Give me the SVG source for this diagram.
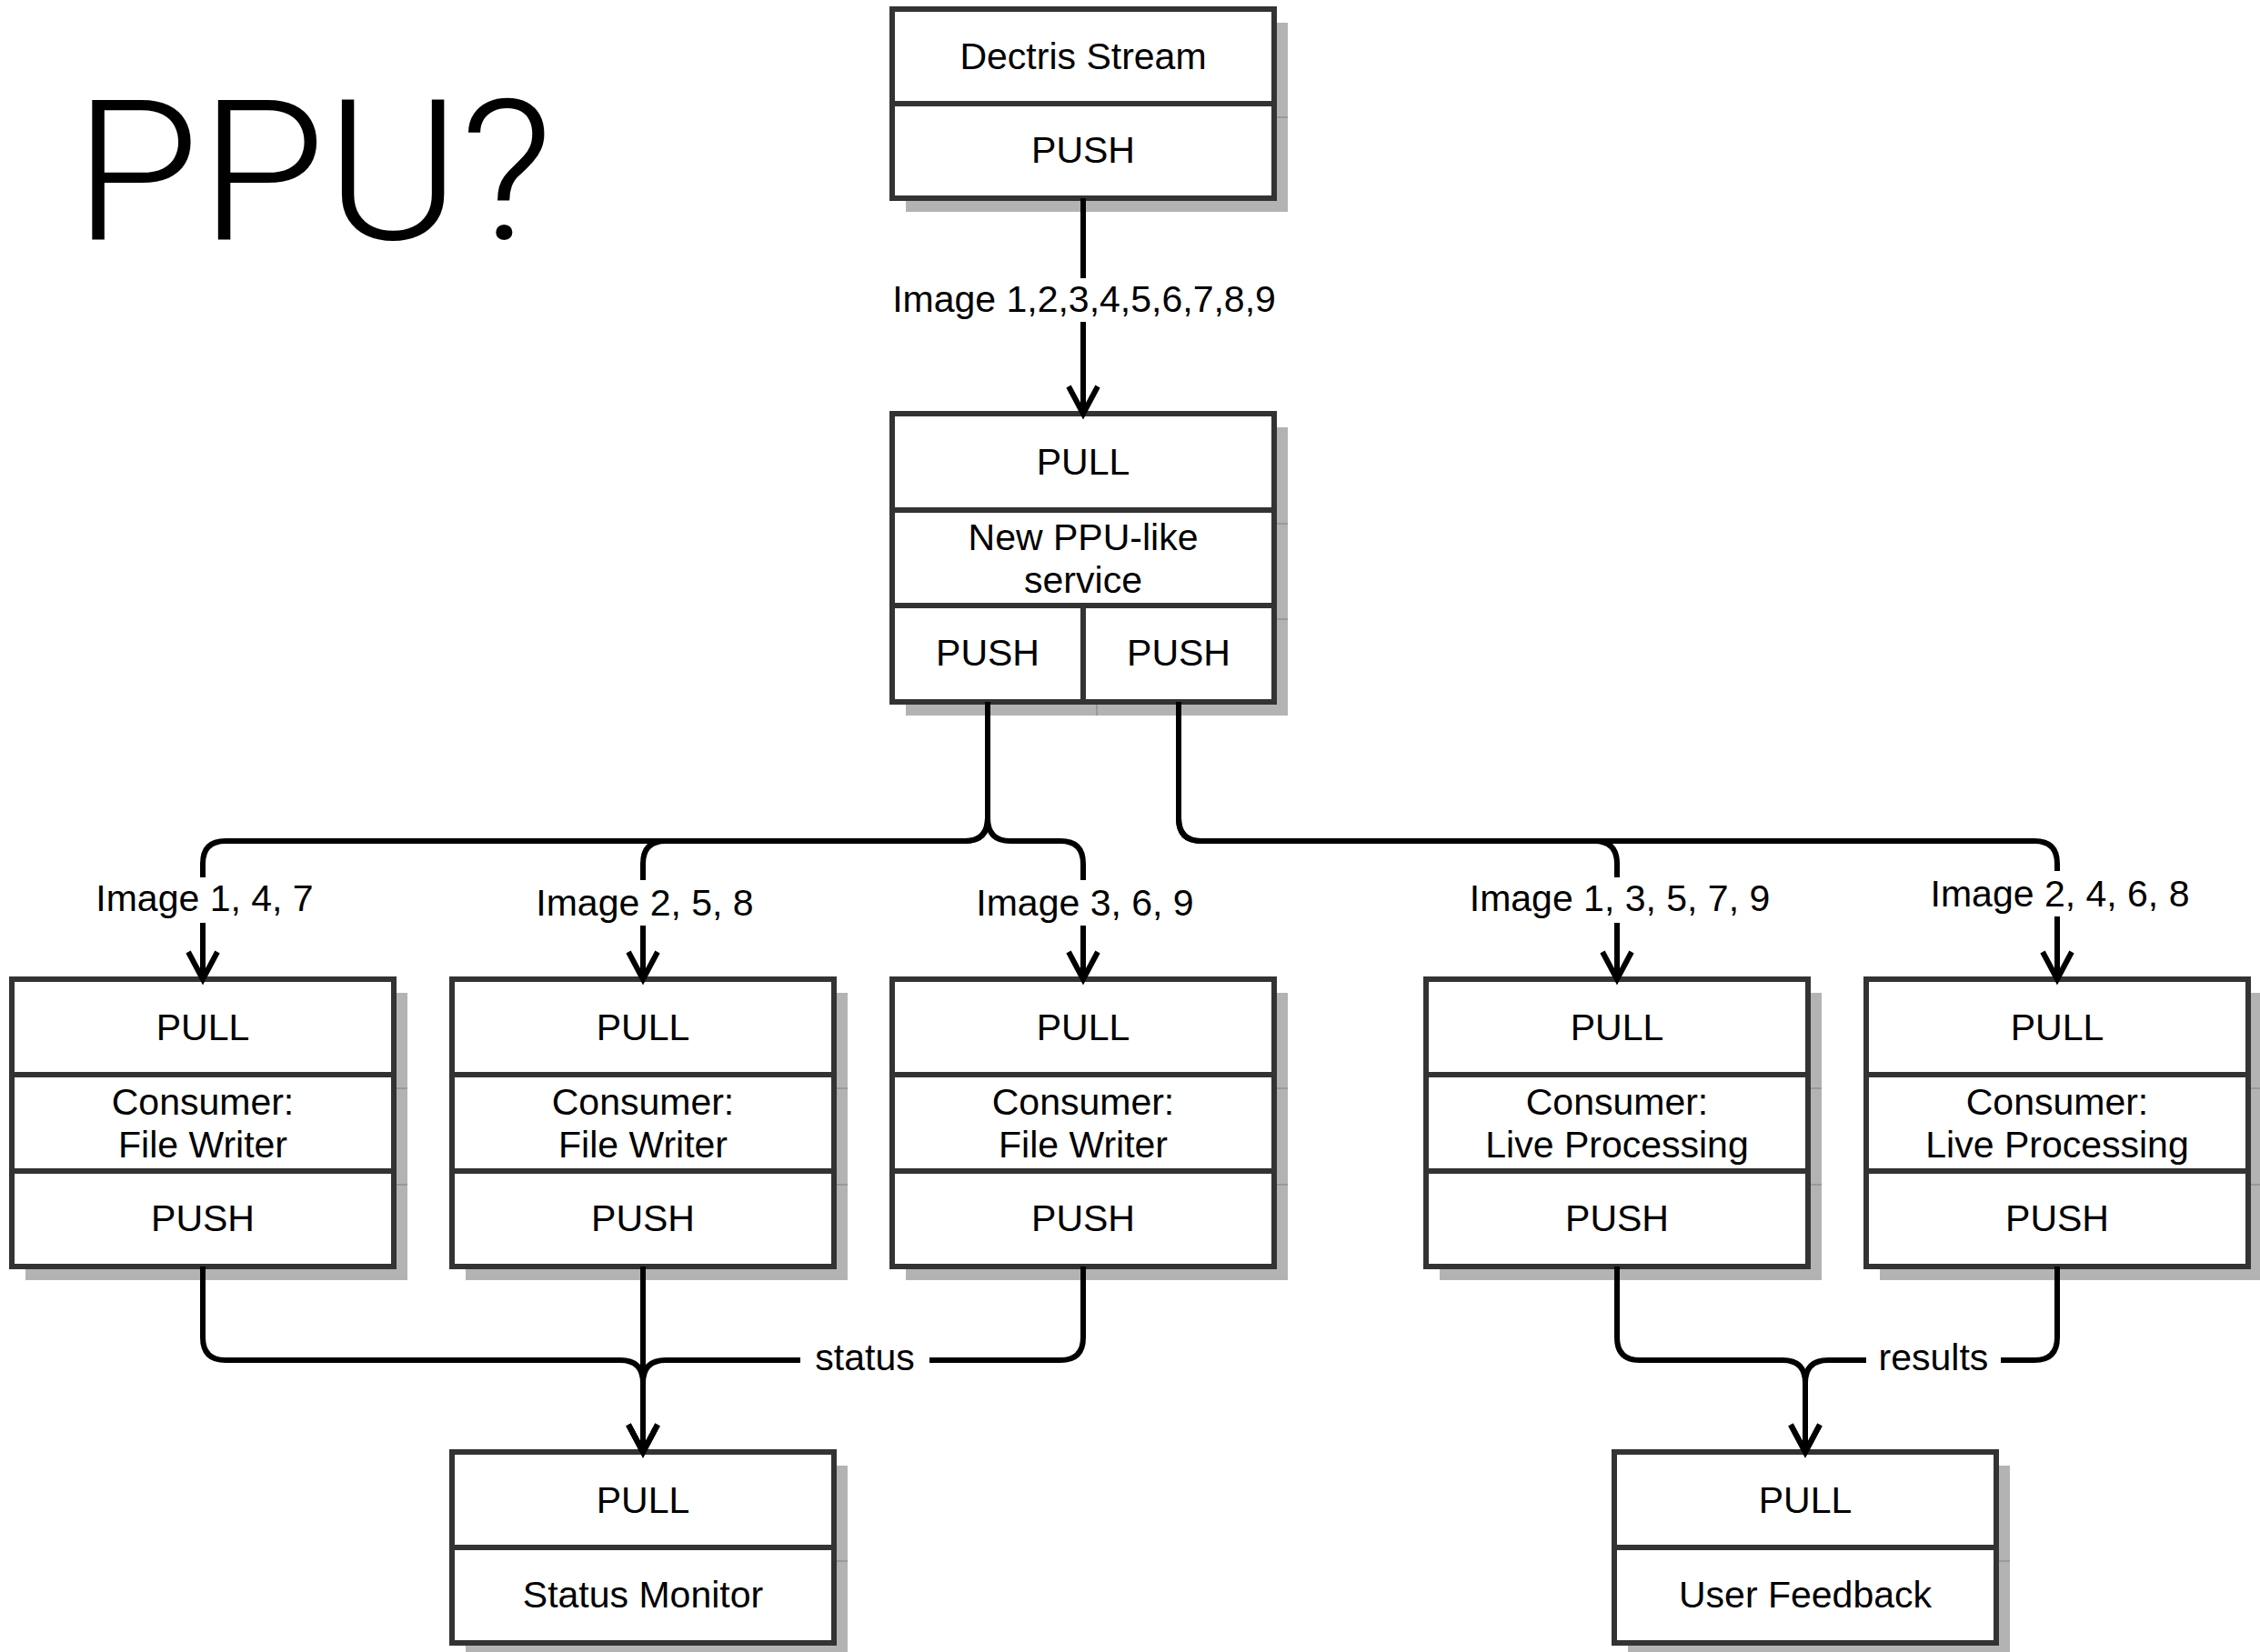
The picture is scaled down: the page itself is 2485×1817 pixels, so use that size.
<svg xmlns="http://www.w3.org/2000/svg" width="2485" height="1817" viewBox="0 0 2485 1817">
<style>
.sh{fill:#b3b3b3}
.shl{stroke:#999;stroke-width:2;fill:none}
.box{fill:#fff;stroke:#333;stroke-width:6}
.div{stroke:#333;stroke-width:6;fill:none}
.t{font-family:"Liberation Sans",Arial,Helvetica,sans-serif;font-size:41px;fill:#000;text-anchor:middle}
.c{fill:none;stroke:#000;stroke-width:6;stroke-linejoin:round}
.bg{fill:#fff}
</style>
<defs>
<marker id="arr" markerUnits="userSpaceOnUse" markerWidth="50" markerHeight="50" refX="0" refY="0" viewBox="-40 -25 50 50" orient="auto" overflow="visible">
<path d="M-30,-16 L0,0 L-30,16" fill="none" stroke="#000" stroke-width="6" stroke-linejoin="miter"/>
</marker>
</defs>
<rect width="2485" height="1817" fill="#fff"/>
<text x="81" y="263" font-family="Roboto,'Liberation Sans',sans-serif" font-weight="300" font-size="215" textLength="527" lengthAdjust="spacingAndGlyphs" fill="#000">PPU?</text>

<g id="dectris">
<rect class="sh" x="996" y="25" width="420" height="208"/>
<line class="shl" x1="1401" y1="129" x2="1416" y2="129"/>
<rect class="box" x="981" y="10" width="420" height="208"/>
<line class="div" x1="981" y1="114" x2="1401" y2="114"/>
<text class="t" x="1191" y="76">Dectris Stream</text>
<text class="t" x="1191" y="179">PUSH</text>
</g>

<g id="ppu">
<rect class="sh" x="996" y="470" width="420" height="317"/>
<line class="shl" x1="1401" y1="576" x2="1416" y2="576"/>
<line class="shl" x1="1401" y1="681" x2="1416" y2="681"/>
<line class="shl" x1="1206" y1="772" x2="1206" y2="787"/>
<rect class="box" x="981" y="455" width="420" height="317"/>
<line class="div" x1="981" y1="561" x2="1401" y2="561"/>
<line class="div" x1="981" y1="666" x2="1401" y2="666"/>
<line class="div" x1="1191" y1="666" x2="1191" y2="772"/>
<text class="t" x="1191" y="522">PULL</text>
<text class="t" x="1191" y="605">New PPU-like</text>
<text class="t" x="1191" y="652">service</text>
<text class="t" x="1086" y="732">PUSH</text>
<text class="t" x="1296" y="732">PUSH</text>
</g>

<g id="fw1">
<rect class="sh" x="28" y="1092" width="420" height="316"/>
<line class="shl" x1="433" y1="1197" x2="448" y2="1197"/>
<line class="shl" x1="433" y1="1303" x2="448" y2="1303"/>
<rect class="box" x="13" y="1077" width="420" height="316"/>
<line class="div" x1="13" y1="1182" x2="433" y2="1182"/>
<line class="div" x1="13" y1="1288" x2="433" y2="1288"/>
<text class="t" x="223" y="1144">PULL</text>
<text class="t" x="223" y="1226">Consumer:</text>
<text class="t" x="223" y="1273">File Writer</text>
<text class="t" x="223" y="1354">PUSH</text>
</g>

<g id="fw2">
<rect class="sh" x="512" y="1092" width="420" height="316"/>
<line class="shl" x1="917" y1="1197" x2="932" y2="1197"/>
<line class="shl" x1="917" y1="1303" x2="932" y2="1303"/>
<rect class="box" x="497" y="1077" width="420" height="316"/>
<line class="div" x1="497" y1="1182" x2="917" y2="1182"/>
<line class="div" x1="497" y1="1288" x2="917" y2="1288"/>
<text class="t" x="707" y="1144">PULL</text>
<text class="t" x="707" y="1226">Consumer:</text>
<text class="t" x="707" y="1273">File Writer</text>
<text class="t" x="707" y="1354">PUSH</text>
</g>

<g id="fw3">
<rect class="sh" x="996" y="1092" width="420" height="316"/>
<line class="shl" x1="1401" y1="1197" x2="1416" y2="1197"/>
<line class="shl" x1="1401" y1="1303" x2="1416" y2="1303"/>
<rect class="box" x="981" y="1077" width="420" height="316"/>
<line class="div" x1="981" y1="1182" x2="1401" y2="1182"/>
<line class="div" x1="981" y1="1288" x2="1401" y2="1288"/>
<text class="t" x="1191" y="1144">PULL</text>
<text class="t" x="1191" y="1226">Consumer:</text>
<text class="t" x="1191" y="1273">File Writer</text>
<text class="t" x="1191" y="1354">PUSH</text>
</g>

<g id="lp1">
<rect class="sh" x="1583" y="1092" width="420" height="316"/>
<line class="shl" x1="1988" y1="1197" x2="2003" y2="1197"/>
<line class="shl" x1="1988" y1="1303" x2="2003" y2="1303"/>
<rect class="box" x="1568" y="1077" width="420" height="316"/>
<line class="div" x1="1568" y1="1182" x2="1988" y2="1182"/>
<line class="div" x1="1568" y1="1288" x2="1988" y2="1288"/>
<text class="t" x="1778" y="1144">PULL</text>
<text class="t" x="1778" y="1226">Consumer:</text>
<text class="t" x="1778" y="1273">Live Processing</text>
<text class="t" x="1778" y="1354">PUSH</text>
</g>

<g id="lp2">
<rect class="sh" x="2067" y="1092" width="420" height="316"/>
<line class="shl" x1="2472" y1="1197" x2="2487" y2="1197"/>
<line class="shl" x1="2472" y1="1303" x2="2487" y2="1303"/>
<rect class="box" x="2052" y="1077" width="420" height="316"/>
<line class="div" x1="2052" y1="1182" x2="2472" y2="1182"/>
<line class="div" x1="2052" y1="1288" x2="2472" y2="1288"/>
<text class="t" x="2262" y="1144">PULL</text>
<text class="t" x="2262" y="1226">Consumer:</text>
<text class="t" x="2262" y="1273">Live Processing</text>
<text class="t" x="2262" y="1354">PUSH</text>
</g>

<g id="status-monitor">
<rect class="sh" x="512" y="1612" width="420" height="210"/>
<line class="shl" x1="917" y1="1717" x2="932" y2="1717"/>
<rect class="box" x="497" y="1597" width="420" height="210"/>
<line class="div" x1="497" y1="1702" x2="917" y2="1702"/>
<text class="t" x="707" y="1664">PULL</text>
<text class="t" x="707" y="1768">Status Monitor</text>
</g>

<g id="user-feedback">
<rect class="sh" x="1790" y="1612" width="420" height="210"/>
<line class="shl" x1="2195" y1="1717" x2="2210" y2="1717"/>
<rect class="box" x="1775" y="1597" width="420" height="210"/>
<line class="div" x1="1775" y1="1702" x2="2195" y2="1702"/>
<text class="t" x="1985" y="1664">PULL</text>
<text class="t" x="1985" y="1768">User Feedback</text>
</g>

<g id="connectors">
<path class="c" marker-end="url(#arr)" d="M1191,218 V455"/>
<path class="c" marker-end="url(#arr)" d="M1086,772 V900 Q1086,925 1061,925 H248 Q223,925 223,950 V1077"/>
<path class="c" marker-end="url(#arr)" d="M1086,772 V900 Q1086,925 1061,925 H732 Q707,925 707,950 V1077"/>
<path class="c" marker-end="url(#arr)" d="M1086,772 V900 Q1086,925 1111,925 H1166 Q1191,925 1191,950 V1077"/>
<path class="c" marker-end="url(#arr)" d="M1296,772 V900 Q1296,925 1321,925 H1753 Q1778,925 1778,950 V1077"/>
<path class="c" marker-end="url(#arr)" d="M1296,772 V900 Q1296,925 1321,925 H2237 Q2262,925 2262,950 V1077"/>
<path class="c" marker-end="url(#arr)" d="M223,1393 V1471 Q223,1496 248,1496 H682 Q707,1496 707,1521 V1597"/>
<path class="c" marker-end="url(#arr)" d="M707,1393 V1597"/>
<path class="c" marker-end="url(#arr)" d="M1191,1393 V1471 Q1191,1496 1166,1496 H732 Q707,1496 707,1521 V1597"/>
<path class="c" marker-end="url(#arr)" d="M1778,1393 V1471 Q1778,1496 1803,1496 H1960 Q1985,1496 1985,1521 V1597"/>
<path class="c" marker-end="url(#arr)" d="M2262,1393 V1471 Q2262,1496 2237,1496 H2010 Q1985,1496 1985,1521 V1597"/>

<rect class="bg" x="976" y="306" width="432" height="48"/>
<text class="t" x="1192" y="343">Image 1,2,3,4,5,6,7,8,9</text>
<rect class="bg" x="100" y="965" width="246" height="50"/>
<text class="t" x="225" y="1002">Image 1, 4, 7</text>
<rect class="bg" x="586" y="968" width="246" height="50"/>
<text class="t" x="709" y="1007">Image 2, 5, 8</text>
<rect class="bg" x="1070" y="968" width="246" height="50"/>
<text class="t" x="1193" y="1007">Image 3, 6, 9</text>
<rect class="bg" x="1610" y="965" width="342" height="50"/>
<text class="t" x="1781" y="1002">Image 1, 3, 5, 7, 9</text>
<rect class="bg" x="2117" y="958" width="296" height="50"/>
<text class="t" x="2265" y="997">Image 2, 4, 6, 8</text>
<rect class="bg" x="880" y="1472" width="142" height="46"/>
<text class="t" x="951" y="1507">status</text>
<rect class="bg" x="2052" y="1472" width="148" height="46"/>
<text class="t" x="2126" y="1507">results</text>
</g>
</svg>
